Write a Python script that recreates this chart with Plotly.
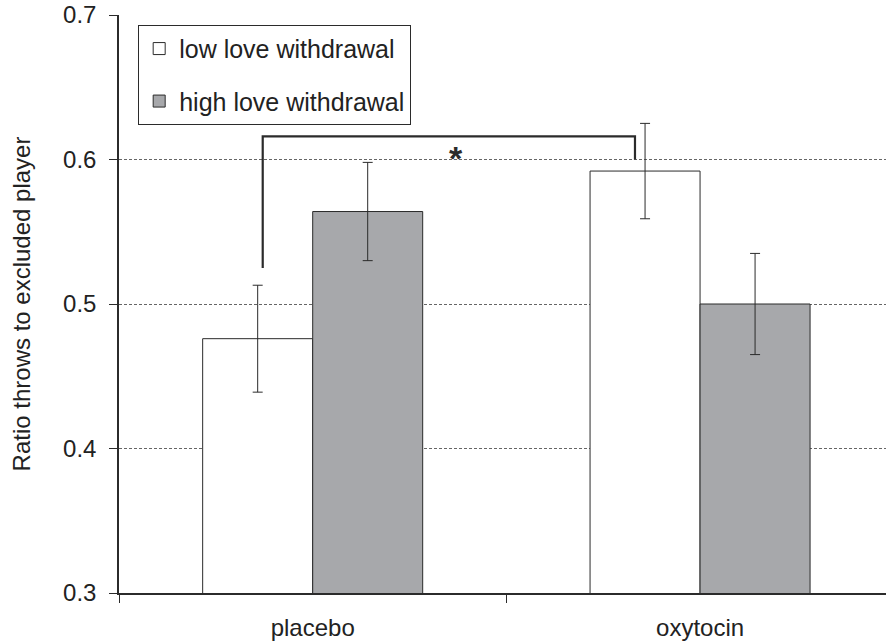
import plotly.graph_objects as go

categories = ["placebo", "oxytocin"]
low_vals = [0.476, 0.592]
low_err = [0.037, 0.033]
high_vals = [0.564, 0.500]
high_err = [0.034, 0.035]
y_ticks = [0.3, 0.4, 0.5, 0.6, 0.7]
y_tick_labels = ["0.3", "0.4", "0.5", "0.6", "0.7"]
bracket_top = 0.616
bracket_left_bottom = 0.525
bracket_right_bottom = 0.600

FONT = "Liberation Sans, Arial, sans-serif"
DARK = "#2b2b2b"
GRAY = "#a7a8ab"

fig = go.Figure()
fig.add_trace(go.Bar(
    x=categories, y=low_vals, name="low love withdrawal",
    marker=dict(color="white", line=dict(color=DARK, width=1)),
    error_y=dict(type="data", array=low_err, color=DARK, thickness=1, width=5),
    legendgroup="a",
))
fig.add_trace(go.Bar(
    x=categories, y=high_vals, name="high love withdrawal",
    marker=dict(color=GRAY, line=dict(color=DARK, width=1)),
    error_y=dict(type="data", array=high_err, color=DARK, thickness=1, width=5),
    legendgroup="b",
))

bargap = 0.432
bw = (1 - bargap) / 2
# bracket between placebo-low and oxytocin-low
xl = 0 - bw / 2 + 0.013
xr = 1 - bw / 2 - 0.026
fig.add_shape(type="path",
              path=f"M {xl} {bracket_left_bottom} L {xl} {bracket_top} L {xr} {bracket_top} L {xr} {bracket_right_bottom}",
              xref="x", yref="y", line=dict(color=DARK, width=2.2))
fig.add_annotation(x=(xl + xr) / 2, y=bracket_top, xref="x", yref="y",
                   text="<b>*</b>", showarrow=False, yshift=-22, xshift=7,
                   font=dict(family=FONT, size=34, color=DARK))

fig.update_layout(
    width=886, height=644,
    margin=dict(l=119, r=0, t=15, b=51),
    paper_bgcolor="white", plot_bgcolor="white",
    barmode="group", bargap=bargap, bargroupgap=0,
    font=dict(family=FONT, size=24, color="#222"),
    showlegend=True,
    legend=dict(x=0.025, y=0.983, xanchor="left", yanchor="top",
                bordercolor=DARK, borderwidth=1, bgcolor="white",
                font=dict(family=FONT, size=25, color="#222"),
                traceorder="grouped", tracegroupgap=17,
                itemwidth=30),
)
fig.update_xaxes(
    range=[-0.5, 1.48], showline=True, linecolor=DARK, linewidth=1.5,
    ticks="outside", tickson="boundaries", ticklen=8, tickcolor=DARK,
    showgrid=False, tickfont=dict(size=24, color="#222"),
    automargin=False, ticklabelstandoff=12,
)
fig.update_yaxes(
    range=[0.3, 0.7], tickvals=y_ticks, ticktext=y_tick_labels,
    showline=True, linecolor=DARK, linewidth=1.5,
    ticks="outside", ticklen=8, tickcolor=DARK,
    showgrid=True, gridcolor="#666", griddash="3px,2px", gridwidth=1,
    tickfont=dict(size=24, color="#222"), ticklabelstandoff=8,
    title=dict(text="Ratio throws to excluded player", font=dict(size=24, color="#222"), standoff=26),
    zeroline=False, automargin=False,
)
fig.write_html("out.html", config={"displayModeBar": False},
               post_script="document.body.style.margin='0px';document.body.style.overflow='hidden';")
